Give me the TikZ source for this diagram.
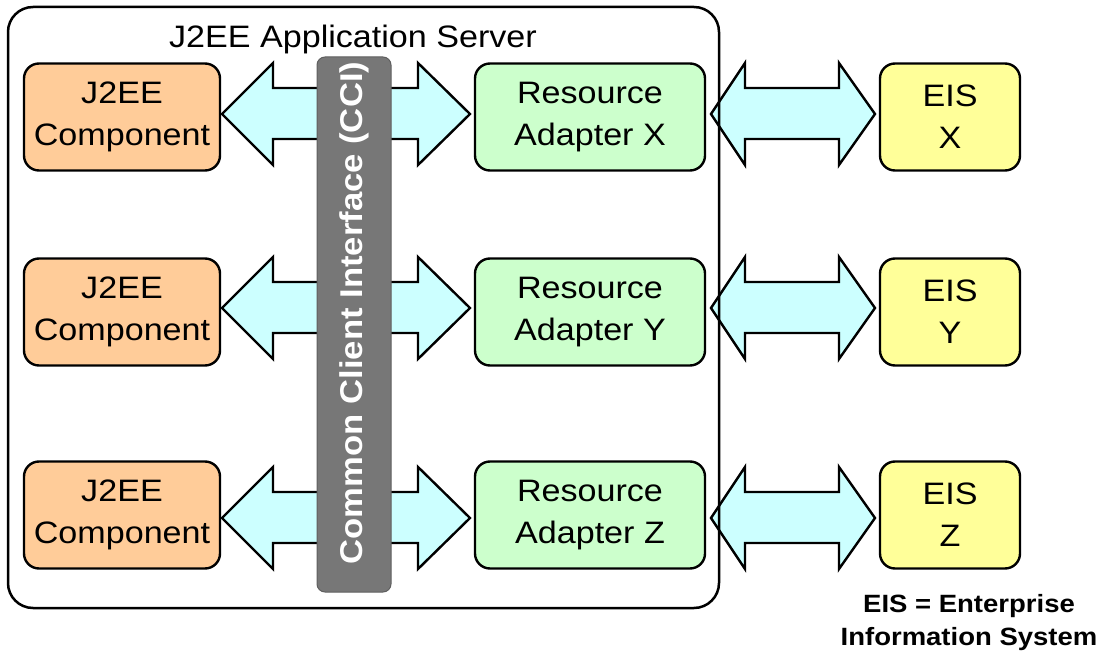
\documentclass[tikz,border=0pt]{standalone}
\usepackage{fontspec}
\setmainfont{Liberation Sans}[FakeStretch=1.1]
\definecolor{j2eefill}{HTML}{FFCC99}
\definecolor{rafill}{HTML}{CCFFCC}
\definecolor{eisfill}{HTML}{FFFF99}
\definecolor{arrfill}{HTML}{CCFFFF}
\definecolor{ccifill}{HTML}{777777}
\begin{document}
\begin{tikzpicture}[x=1pt,y=-1pt,
  box/.style={draw,line width=2.4pt,rounded corners=15pt,align=center,inner sep=0pt,
    minimum height=107pt,font=\fontsize{31}{42}\selectfont},
  blockarrow/.style={draw,line width=2.4pt,fill=arrfill,line join=miter},
  label/.style={inner sep=0pt,font=\fontsize{31}{40}\selectfont},
  note/.style={inner sep=0pt,font=\bfseries\fontsize{25}{33}\selectfont},
  ccibar/.style={draw=ccifill!80!black,line width=1pt,fill=ccifill,rounded corners=8pt}]
\useasboundingbox (0,0) rectangle (1106,652);
\newcommand\dblarrow[5]{%
  \path[blockarrow] (#1,#5) -- (#2,#5-51) -- (#2,#5-26) -- (#3,#5-26) -- (#3,#5-51)
    -- (#4,#5) -- (#3,#5+51) -- (#3,#5+25) -- (#2,#5+25) -- (#2,#5+51) -- cycle;}
% boxes
\foreach \r/\y/\ya/\l in {1/117/114/X, 2/312/308/Y, 3/515/518/Z}{
  \node[box,fill=j2eefill,minimum width=196pt] (j\r) at (122,\y) {J2EE\\Component};
  \node[box,fill=rafill,minimum width=230pt] (ra\r) at (590,\y) {Resource\\Adapter \l};
  \node[box,fill=eisfill,minimum width=140pt] (eis\r) at (950,\y) {EIS\\\l};
  \dblarrow{222}{273}{418}{470}{\ya}
  \dblarrow{711}{745}{839}{875}{\ya}
}
% server frame
\draw[line width=2.5pt,rounded corners=25pt] (8,7) rectangle (719,608);
\node[label,anchor=base] (title) at (353,48) {J2EE Application Server};
% CCI bar
\path[ccibar] (317,57) rectangle (391,592);
\node[inner sep=0pt,rotate=90,text=white,font=\bfseries\fontsize{31.5}{36}\selectfont] (cci) at (354,313) {Common Client Interface (CCI)};
% note
\node[note,anchor=base] (n1) at (969,612) {EIS = Enterprise};
\node[note,anchor=base] (n2) at (969,645) {Information System};
\end{tikzpicture}
\end{document}
